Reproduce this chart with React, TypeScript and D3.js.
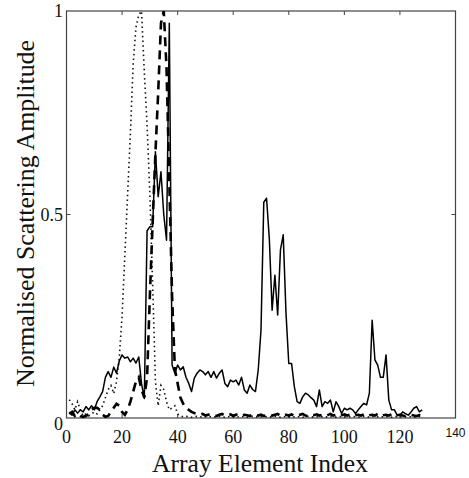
import React from 'react';
import * as d3 from 'd3';

// array element index runs 1..128
const solidAmp = [
  0.015, 0.007, 0.02, 0.012, 0.02, 0.015, 0.028, 0.02, 0.03, 0.02,
  0.04, 0.052, 0.065, 0.1, 0.114, 0.1, 0.125, 0.11, 0.14, 0.155,
  0.147, 0.15, 0.138, 0.147, 0.135, 0.15, 0.085, 0.048, 0.46, 0.47,
  0.47, 0.654, 0.544, 0.605, 0.5, 0.437, 0.97, 0.13, 0.11, 0.13,
  0.118, 0.126, 0.1, 0.085, 0.065, 0.098, 0.11, 0.118, 0.114, 0.106,
  0.114, 0.1, 0.114, 0.098, 0.11, 0.118, 0.085, 0.077, 0.093, 0.089,
  0.093, 0.081, 0.1, 0.069, 0.061, 0.081, 0.07, 0.065, 0.118, 0.216,
  0.53, 0.54, 0.44, 0.265, 0.351, 0.253, 0.413, 0.45, 0.257, 0.134,
  0.134, 0.077, 0.04, 0.036, 0.052, 0.061, 0.057, 0.05, 0.044, 0.028,
  0.069, 0.028, 0.04, 0.036, 0.044, 0.015, 0.04, 0.028, 0.011, 0.024,
  0.02, 0.024, 0.02, 0.011, 0.02, 0.028, 0.036, 0.032, 0.061, 0.24,
  0.143, 0.13, 0.1, 0.1, 0.155, 0.044, 0.02, 0.02, 0.007, 0.007,
  0.015, 0.011, 0.007, 0.015, 0.024, 0.028, 0.015, 0.02,
];

const dashedAmp = [
  0.01, 0.015, 0.005, 0.01, 0.005, 0.003, 0.005, 0.01, 0.02, 0.025,
  0.025, 0.02, 0.008, 0.003, 0.005, 0.015, 0.025, 0.035, 0.03, 0.015,
  0.008, 0.02, 0.04, 0.065, 0.09, 0.1, 0.07, 0.05, 0.1, 0.3,
  0.48, 0.65, 0.8, 0.97, 1.0, 0.86, 0.58, 0.3, 0.12, 0.085,
  0.05, 0.035, 0.025, 0.02, 0.015, 0.012, 0.01, 0.008, 0.01, 0.006,
  0.008, 0.01, 0.007, 0.005, 0.008, 0.01, 0.006, 0.007, 0.009, 0.005,
  0.008, 0.01, 0.006, 0.008, 0.007, 0.005, 0.009, 0.01, 0.006, 0.008,
  0.005, 0.007, 0.009, 0.006, 0.008, 0.01, 0.005, 0.007, 0.008, 0.006,
  0.009, 0.005, 0.007, 0.008, 0.01, 0.006, 0.005, 0.008, 0.007, 0.009,
  0.006, 0.008, 0.005, 0.007, 0.01, 0.006, 0.008, 0.005, 0.007, 0.009,
  0.006, 0.008, 0.005, 0.007, 0.008, 0.006, 0.009, 0.005, 0.007, 0.008,
  0.006, 0.01, 0.005, 0.007, 0.008, 0.006, 0.009, 0.005, 0.007, 0.008,
  0.006, 0.005, 0.007, 0.008, 0.006, 0.005, 0.007, 0.006,
];

const dottedAmp = [
  0.045, 0.035, 0.02, 0.04, 0.02, 0.005, 0.01, 0.005, 0.01, 0.015,
  0.01, 0.02, 0.03, 0.05, 0.07, 0.08, 0.06, 0.09, 0.15, 0.25,
  0.4, 0.55, 0.7, 0.87, 0.96, 0.99, 1.0, 0.85, 0.72, 0.55,
  0.33, 0.09, 0.03, 0.08, 0.07, 0.04, 0.02, 0.025, 0.03, 0.01,
  0.005, 0.003, 0.004, 0.003, 0.002, 0.003, 0.004, 0.003, 0.002, 0.003,
  0.004, 0.003, 0.002, 0.003, 0.004, 0.003, 0.002, 0.003, 0.004, 0.003,
  0.002, 0.003, 0.004, 0.003, 0.002, 0.003, 0.004, 0.003, 0.002, 0.003,
  0.004, 0.003, 0.002, 0.003, 0.004, 0.003, 0.002, 0.003, 0.004, 0.003,
  0.002, 0.003, 0.004, 0.003, 0.002, 0.003, 0.004, 0.003, 0.002, 0.003,
  0.004, 0.003, 0.002, 0.003, 0.004, 0.003, 0.002, 0.003, 0.004, 0.003,
  0.002, 0.003, 0.004, 0.003, 0.002, 0.003, 0.004, 0.003, 0.002, 0.003,
  0.004, 0.003, 0.002, 0.003, 0.004, 0.003, 0.002, 0.003, 0.004, 0.003,
  0.002, 0.003, 0.004, 0.003, 0.002, 0.003, 0.004, 0.003,
];

const xTicks = [0, 20, 40, 60, 80, 100, 120];
const innerTicks = [20, 40, 60, 80, 100, 120];
const yTicks = [0, 0.5, 1];
const yTickLabels = ['0', '0.5', '1'];

const W = 469;
const H = 478;
const serif = '"Liberation Serif", "DejaVu Serif", serif';

export default function App() {
  const x = d3.scaleLinear().domain([0, 140]).range([66.5, 455.5]);
  const y = d3.scaleLinear().domain([0, 1]).range([418, 11]);

  const line = d3
    .line<number>()
    .x((_, i) => x(i + 1))
    .y((d) => y(d));

  const x0 = x(0);
  const x1 = x(140);
  const y0 = y(0);
  const y1 = y(1);
  const tl = 4;

  return (
    <svg
      width={W}
      height={H}
      style={{ position: 'absolute', left: 0, top: 0, background: '#fff' }}
    >
      {/* frame */}
      <rect
        x={x0}
        y={y1}
        width={x1 - x0}
        height={y0 - y1}
        fill="none"
        stroke="#444"
        strokeWidth={1.2}
      />
      {innerTicks.map((t) => (
        <g key={t} stroke="#444" strokeWidth={1}>
          <line x1={x(t)} x2={x(t)} y1={y0} y2={y0 - tl} />
          <line x1={x(t)} x2={x(t)} y1={y1} y2={y1 + tl} />
        </g>
      ))}
      <line x1={x0} x2={x0 + tl} y1={y(0.5)} y2={y(0.5)} stroke="#444" />
      <line x1={x1} x2={x1 - tl} y1={y(0.5)} y2={y(0.5)} stroke="#444" />

      {/* series */}
      <path
        d={line(dottedAmp) || ''}
        fill="none"
        stroke="#111"
        strokeWidth={1.6}
        strokeDasharray="1.5,3.2"
      />
      <path
        d={line(dashedAmp) || ''}
        fill="none"
        stroke="#000"
        strokeWidth={2.6}
        strokeDasharray="9,6"
      />
      <path
        d={line(solidAmp) || ''}
        fill="none"
        stroke="#000"
        strokeWidth={1.5}
        strokeLinejoin="round"
      />

      {/* tick labels */}
      {xTicks.map((t) => (
        <text
          key={t}
          x={x(t)}
          y={443}
          textAnchor="middle"
          fontFamily={serif}
          fontSize={18}
          fill="#111"
        >
          {t}
        </text>
      ))}
      <text
        x={x(140)}
        y={437}
        textAnchor="middle"
        fontFamily='"Liberation Sans", Arial, sans-serif'
        fontSize={12}
        fill="#111"
      >
        140
      </text>
      {yTicks.map((t, i) => (
        <text
          key={t}
          x={63}
          y={t === 0 ? y(t) + 6 : y(t)}
          dy="0.35em"
          textAnchor="end"
          fontFamily={serif}
          fontSize={18}
          fill="#111"
        >
          {yTickLabels[i]}
        </text>
      ))}

      {/* axis titles */}
      <text
        x={260}
        y={472}
        textAnchor="middle"
        fontFamily={serif}
        fontSize={26}
        fill="#111"
        textLength={216}
        lengthAdjust="spacingAndGlyphs"
      >
        Array Element Index
      </text>
      <text
        transform={`translate(34,${213.5}) rotate(-90)`}
        textAnchor="middle"
        fontFamily={serif}
        fontSize={26}
        fill="#111"
        textLength={347}
        lengthAdjust="spacingAndGlyphs"
      >
        Normalised Scattering Amplitude
      </text>
    </svg>
  );
}
